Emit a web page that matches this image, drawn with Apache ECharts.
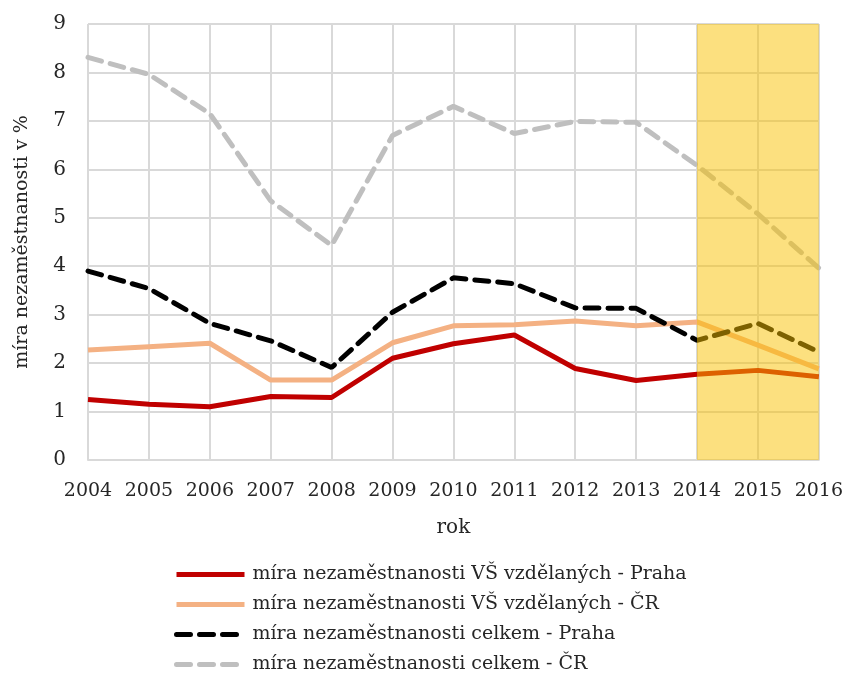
<!DOCTYPE html>
<html>
<head>
<meta charset="utf-8">
<script src="https://cdn.jsdelivr.net/npm/echarts@6/dist/echarts.min.js"></script>
<style>
    html, body { margin: 0; padding: 0; background: #fff; }
    #chart { width: 846px; height: 675px; }
</style>
</head>
<body>
<div id="chart"></div>
<script>
const years = ["2004", "2005", "2006", "2007", "2008", "2009", "2010", "2011", "2012", "2013", "2014", "2015", "2016"];
const vsPraha = [1.25, 1.15, 1.1, 1.31, 1.29, 2.1, 2.4, 2.58, 1.89, 1.64, 1.77, 1.85, 1.72];
const vsCR = [2.27, 2.34, 2.41, 1.65, 1.65, 2.42, 2.77, 2.79, 2.87, 2.77, 2.85, 2.37, 1.88];
const celkemPraha = [3.9, 3.54, 2.82, 2.46, 1.91, 3.05, 3.76, 3.64, 3.14, 3.13, 2.47, 2.82, 2.23];
const celkemCR = [8.31, 7.96, 7.15, 5.35, 4.43, 6.7, 7.3, 6.74, 6.99, 6.97, 6.08, 5.08, 3.96];
const legendNames = [
    "míra nezaměstnanosti VŠ vzdělaných - Praha",
    "míra nezaměstnanosti VŠ vzdělaných - ČR",
    "míra nezaměstnanosti celkem - Praha",
    "míra nezaměstnanosti celkem - ČR"
];
const highlightFrom = "2014";
const highlightTo = "2016";

const font = "'DejaVu Serif', serif";
let myChart = echarts.init(document.getElementById("chart"));

function lineSeries(name, data, color, dashed) {
    return {
        type: "line",
        name: name,
        data: data,
        symbol: "none",
        z: 2,
        lineStyle: {
            color: color,
            width: 5,
            type: dashed ? [14, 9] : "solid",
            cap: dashed ? "round" : "butt",
        },
        itemStyle: { color: color },
    };
}

myChart.setOption({
    animation: false,
    textStyle: { fontFamily: font },
    grid: { left: 88, right: 26, top: 24, bottom: 215 },
    legend: {
        orient: "vertical",
        left: 174,
        top: 564,
        padding: 0,
        itemWidth: 68,
        itemHeight: 14,
        itemGap: 9,
        itemStyle: { opacity: 0 },
        lineStyle: { width: 5 },
        data: legendNames,
        textStyle: { color: "#262626", fontSize: 19, lineHeight: 21, fontFamily: font, padding: [0, 0, 0, 3] },
    },
    xAxis: {
        type: "category",
        data: years,
        boundaryGap: false,
        name: "rok",
        nameLocation: "middle",
        nameGap: 58,
        nameTextStyle: { color: "#262626", fontSize: 20 },
        axisLine: { lineStyle: { color: "#d9d9d9", width: 2 } },
        axisTick: { show: false },
        axisLabel: { color: "#262626", fontSize: 19, margin: 22, interval: 0 },
        splitLine: { show: true, interval: 0, lineStyle: { color: "#d9d9d9", width: 2 } },
    },
    yAxis: {
        type: "value",
        min: 0,
        max: 9,
        interval: 1,
        name: "míra nezaměstnanosti v %",
        nameLocation: "middle",
        nameGap: 56,
        nameTextStyle: { color: "#262626", fontSize: 19 },
        axisLine: { show: false },
        axisTick: { show: false },
        axisLabel: { color: "#262626", fontSize: 20, margin: 22 },
        splitLine: { lineStyle: { color: "#d9d9d9", width: 2 } },
    },
    series: [
        lineSeries(legendNames[0], vsPraha, "#c00000", false),
        lineSeries(legendNames[1], vsCR, "#f4b183", false),
        lineSeries(legendNames[2], celkemPraha, "#000000", true),
        lineSeries(legendNames[3], celkemCR, "#bfbfbf", true),
        {
            type: "line",
            name: "highlight",
            data: [],
            z: 10,
            markArea: {
                silent: true,
                z: 10,
                itemStyle: { color: "rgba(250,194,0,0.5)" },
                data: [[{ xAxis: highlightFrom }, { xAxis: highlightTo }]],
            },
        },
    ],
});
</script>
</body>
</html>
